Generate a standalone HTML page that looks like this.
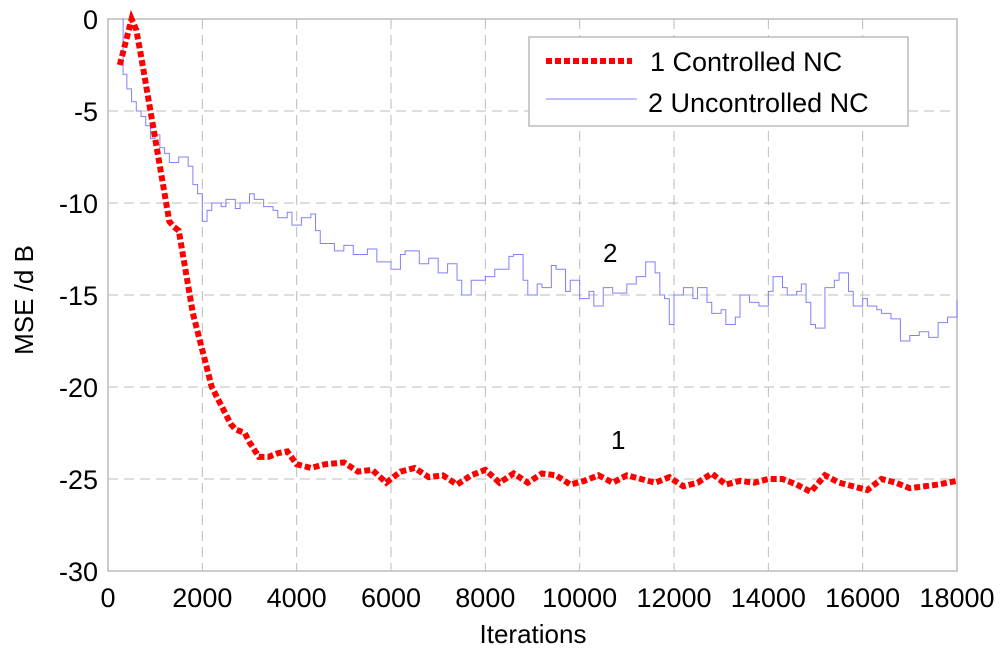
<!DOCTYPE html>
<html><head><meta charset="utf-8"><style>
body{margin:0;background:#fff;}
svg text{font-family:"Liberation Sans",Arial,sans-serif;fill:#000;}
</style></head><body>
<svg width="1000" height="653">
<g id="grid"></g>
<rect x="108" y="19" width="849" height="552" fill="none" stroke="#bbb" stroke-width="1.5"/>
<g id="ticks"></g>
<path id="blue" fill="none" stroke="#8080ff" stroke-width="1"/>
<path id="red" fill="none" stroke="#ff0000" stroke-width="6" stroke-dasharray="6,3"/>
<text x="603" y="262" font-size="26">2</text>
<text x="611" y="449" font-size="26">1</text>
<g>
<rect x="529" y="37" width="379" height="89" fill="#fff" stroke="#bbb" stroke-width="1.5"/>
<line x1="546" y1="61" x2="632" y2="61" stroke="#ff0000" stroke-width="6" stroke-dasharray="6,3"/>
<text x="650" y="71" font-size="27">1 Controlled NC</text>
<line x1="546" y1="99" x2="637" y2="99" stroke="#8080ff" stroke-width="1"/>
<text x="648" y="112" font-size="27">2 Uncontrolled NC</text>
</g>
<text x="533" y="643" font-size="26" text-anchor="middle">Iterations</text>
<text transform="translate(33,300) rotate(-90)" font-size="26" text-anchor="middle">MSE /d B</text>
</svg>
<script>
const xTicks=[0,2000,4000,6000,8000,10000,12000,14000,16000,18000];
const yTicks=[0,-5,-10,-15,-20,-25,-30];
const blueX=[300,320,400,500,600,700,800,900,1000,1100,1200,1300,1500,1700,1800,1900,2000,2100,2200,2400,2500,2700,2800,3000,3100,3300,3500,3600,3800,3900,4100,4300,4400,4500,4800,5000,5200,5500,5700,6000,6200,6300,6600,6800,7000,7200,7400,7500,7700,8000,8200,8300,8500,8600,8800,8900,9100,9200,9400,9500,9700,9800,10000,10200,10300,10500,10700,11000,11200,11400,11600,11700,11800,11900,12000,12200,12400,12500,12700,12800,13000,13100,13300,13400,13600,13800,14000,14100,14300,14400,14600,14700,14800,14900,15000,15200,15400,15500,15700,15800,16000,16100,16300,16400,16600,16800,17000,17200,17400,17600,17800,18000];
const blueY=[0,-3,-3.8,-4.5,-5,-5.3,-5.8,-6.5,-6.3,-7,-7.3,-7.8,-7.5,-8,-9,-9.5,-11,-10.4,-10,-10.2,-9.8,-10.3,-10,-9.5,-9.8,-10.2,-10.4,-10.8,-10.5,-11.2,-10.8,-10.6,-11.5,-12.2,-12.6,-12.3,-12.8,-12.5,-13.2,-13.6,-12.8,-12.6,-13.3,-13,-13.8,-13.3,-14.2,-15,-14.2,-14,-13.6,-13.6,-12.9,-12.8,-14.2,-15,-14.4,-14.6,-13.4,-13.6,-14.8,-14.2,-15.2,-14.8,-15.6,-14.6,-14.9,-14.4,-14,-13.2,-13.8,-15,-15.2,-16.6,-15,-14.6,-15.2,-14.6,-15.4,-16,-15.8,-16.6,-16.2,-15,-15.4,-15.6,-14.8,-14,-14.6,-15,-14.8,-14.4,-15.4,-16.6,-16.8,-14.6,-14.2,-13.8,-14.8,-15.6,-15.2,-15.6,-15.8,-16,-16.3,-17.5,-17.2,-17,-17.3,-16.5,-16.2,-15.3];
const redX=[250,350,450,500,600,700,800,900,1000,1100,1200,1300,1400,1500,1600,1700,1800,1900,2000,2100,2200,2300,2400,2500,2600,2700,2800,2900,3000,3200,3400,3600,3800,4000,4300,4600,5000,5300,5600,5900,6200,6500,6800,7100,7400,7700,8000,8300,8600,8900,9200,9500,9800,10100,10400,10700,11000,11300,11600,11900,12200,12500,12800,13100,13400,13700,14000,14300,14600,14900,15200,15500,15800,16100,16400,16700,17000,17300,17600,18000];
const redY=[-2.5,-1.5,-0.5,0,-0.6,-2,-3.5,-5,-6.5,-8,-9.5,-11,-11.3,-11.5,-13,-14.5,-16,-17,-18,-19,-20,-20.5,-21,-21.5,-22,-22.3,-22.4,-22.5,-23,-23.8,-23.8,-23.6,-23.5,-24.2,-24.4,-24.2,-24.1,-24.6,-24.5,-25.2,-24.6,-24.4,-24.9,-24.8,-25.3,-24.8,-24.5,-25.2,-24.7,-25.2,-24.7,-24.8,-25.3,-25.1,-24.8,-25.2,-24.8,-25,-25.2,-24.9,-25.4,-25.2,-24.7,-25.3,-25.1,-25.2,-25,-25,-25.3,-25.7,-24.8,-25.2,-25.4,-25.6,-25,-25.2,-25.5,-25.4,-25.3,-25.1];
const X=v=>108+v/18000*849;
const Y=v=>19+(-v)/30*552;
const ns="http://www.w3.org/2000/svg";
const grid=document.getElementById('grid'),ticks=document.getElementById('ticks');
xTicks.forEach(t=>{
 const l=document.createElementNS(ns,'line');
 l.setAttribute('x1',X(t));l.setAttribute('x2',X(t));l.setAttribute('y1',19);l.setAttribute('y2',571);
 l.setAttribute('stroke','#bbb');l.setAttribute('stroke-dasharray','10,6');
 
 
 grid.appendChild(l);
 const tx=document.createElementNS(ns,'text');
 tx.setAttribute('x',X(t));tx.setAttribute('y',607);tx.setAttribute('font-size','27');tx.setAttribute('text-anchor','middle');
 tx.textContent=t;
 
 
 ticks.appendChild(tx);
});
yTicks.forEach(t=>{
 const l=document.createElementNS(ns,'line');
 l.setAttribute('x1',108);l.setAttribute('x2',957);l.setAttribute('y1',Y(t));l.setAttribute('y2',Y(t));
 l.setAttribute('stroke','#bbb');l.setAttribute('stroke-dasharray','10,6');
 
 
 grid.appendChild(l);
 const tx=document.createElementNS(ns,'text');
 tx.setAttribute('x',98);tx.setAttribute('y',Y(t)+10);tx.setAttribute('font-size','27');tx.setAttribute('text-anchor','end');
 tx.textContent=t;
 
 
 ticks.appendChild(tx);
});
function stepPath(xs,ys){let d='M'+X(xs[0])+','+Y(ys[0]);for(let i=1;i<xs.length;i++){d+=' H'+X(xs[i])+' V'+Y(ys[i]);}return d;}
function linePath(xs,ys){return xs.map((x,i)=>(i?'L':'M')+X(x)+','+Y(ys[i])).join(' ');}
document.getElementById('blue').setAttribute('d',stepPath(blueX,blueY));
document.getElementById('red').setAttribute('d',linePath(redX,redY));
</script>
</body></html>
